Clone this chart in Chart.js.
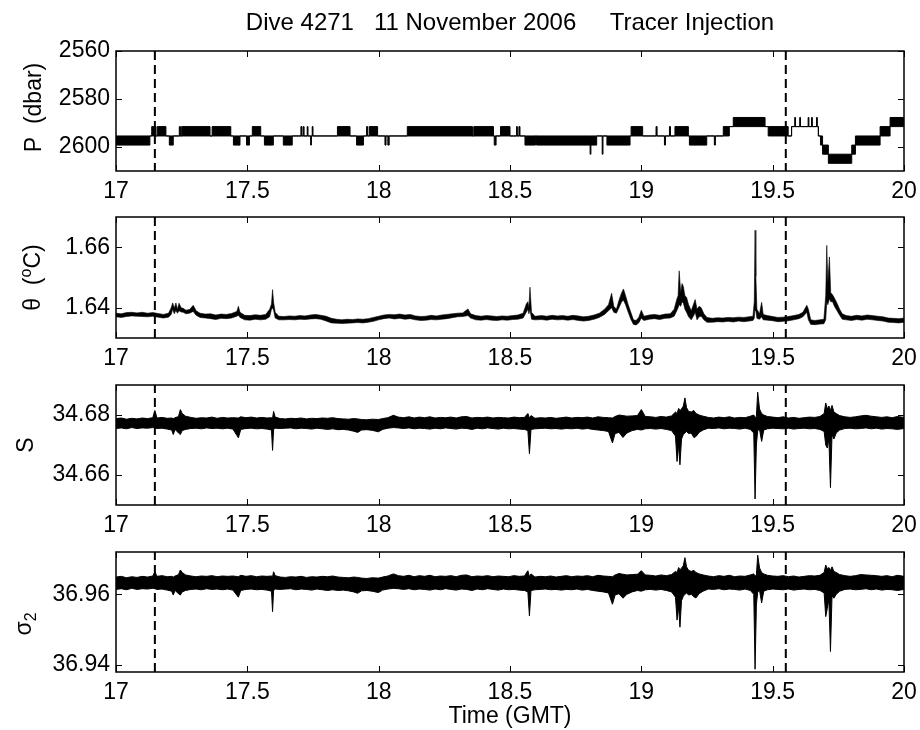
<!DOCTYPE html>
<html>
<head>
<meta charset="utf-8">
<style>
  body { margin: 0; background: #fff; overflow: hidden; }
  canvas { position: absolute; left: 0; }
</style>
</head>
<body>
<canvas id="pChart" width="960" height="211" style="top:0px"></canvas>
<canvas id="thetaChart" width="960" height="183" style="top:195px"></canvas>
<canvas id="sChart" width="960" height="182" style="top:363px"></canvas>
<canvas id="sigmaChart" width="960" height="200" style="top:530px"></canvas>

<script src="https://cdn.jsdelivr.net/npm/chart.js"></script>
<script>
// ---- data (time in hours GMT) ----
const timeTicks = [17, 17.5, 18, 18.5, 19, 19.5, 20];
const eventTimes = [17.148, 19.55]; // dashed markers

// pressure: step trace, shallow/deep value held from each break time
const pressureTicks = [2560, 2580, 2600];
const pressureTime = [
  17.000, 17.129, 17.136, 17.152, 17.157, 17.190, 17.203, 17.218, 17.241, 17.243,
  17.246, 17.248, 17.251, 17.358, 17.366, 17.437, 17.447, 17.472, 17.497, 17.508,
  17.519, 17.551, 17.565, 17.599, 17.637, 17.671, 17.704, 17.708, 17.713, 17.716,
  17.728, 17.731, 17.741, 17.744, 17.747, 17.750, 17.843, 17.891, 17.916, 17.942,
  17.954, 17.958, 17.964, 17.996, 18.024, 18.028, 18.035, 18.040, 18.109, 18.357,
  18.362, 18.437, 18.440, 18.447, 18.464, 18.500, 18.525, 18.528, 18.534, 18.538,
  18.557, 18.597, 18.601, 18.805, 18.808, 18.830, 18.851, 18.854, 18.869, 18.957,
  18.961, 19.005, 19.056, 19.060, 19.088, 19.092, 19.107, 19.111, 19.128, 19.179,
  19.183, 19.249, 19.278, 19.282, 19.312, 19.335, 19.350, 19.471, 19.483, 19.559,
  19.572, 19.584, 19.587, 19.603, 19.606, 19.635, 19.638, 19.648, 19.651, 19.667,
  19.670, 19.674, 19.682, 19.690, 19.712, 19.801, 19.815, 19.909, 19.947, 20.000
];
const pressureShallow = [
  2595.4, 2595.4, 2591.5, 2595.4, 2591.5, 2595.4, 2595.4, 2595.4, 2591.5, 2595.4,
  2591.5, 2595.4, 2591.5, 2595.4, 2591.5, 2595.4, 2595.4, 2595.4, 2595.4, 2595.4,
  2591.5, 2595.4, 2595.4, 2595.4, 2595.4, 2595.4, 2591.5, 2595.4, 2591.5, 2595.4,
  2591.5, 2595.4, 2595.4, 2595.4, 2591.5, 2595.4, 2591.5, 2595.4, 2595.4, 2595.4,
  2591.5, 2595.4, 2591.5, 2595.4, 2595.4, 2595.4, 2595.4, 2595.4, 2591.5, 2595.4,
  2591.5, 2595.4, 2595.4, 2595.4, 2591.5, 2595.4, 2591.5, 2595.4, 2591.5, 2595.4,
  2595.4, 2595.4, 2595.4, 2595.4, 2595.4, 2595.4, 2595.4, 2595.4, 2595.4, 2595.4,
  2591.5, 2595.4, 2591.5, 2595.4, 2595.4, 2595.4, 2591.5, 2595.4, 2591.5, 2595.4,
  2595.4, 2595.4, 2595.4, 2595.4, 2591.5, 2591.5, 2587.7, 2591.5, 2591.5, 2595.4,
  2591.5, 2587.7, 2591.5, 2587.7, 2591.5, 2587.7, 2591.5, 2587.7, 2591.5, 2587.7,
  2591.5, 2595.4, 2595.4, 2599.2, 2603.0, 2599.2, 2595.4, 2591.5, 2587.7, 2587.7
];
const pressureDeep = [
  2599.2, 2595.4, 2595.4, 2595.4, 2595.4, 2595.4, 2599.2, 2595.4, 2595.4, 2595.4,
  2595.4, 2595.4, 2595.4, 2595.4, 2595.4, 2595.4, 2599.2, 2595.4, 2599.2, 2595.4,
  2595.4, 2595.4, 2599.2, 2595.4, 2599.2, 2595.4, 2595.4, 2595.4, 2595.4, 2595.4,
  2595.4, 2595.4, 2599.2, 2595.4, 2595.4, 2595.4, 2595.4, 2595.4, 2599.2, 2595.4,
  2595.4, 2595.4, 2595.4, 2595.4, 2599.2, 2595.4, 2599.2, 2595.4, 2595.4, 2595.4,
  2595.4, 2595.4, 2599.2, 2595.4, 2595.4, 2595.4, 2595.4, 2595.4, 2595.4, 2595.4,
  2599.2, 2595.4, 2599.2, 2603.0, 2599.2, 2595.4, 2603.0, 2595.4, 2599.2, 2595.4,
  2595.4, 2595.4, 2595.4, 2595.4, 2599.2, 2595.4, 2595.4, 2595.4, 2595.4, 2595.4,
  2599.2, 2595.4, 2599.2, 2595.4, 2595.4, 2591.5, 2591.5, 2591.5, 2595.4, 2595.4,
  2591.5, 2591.5, 2591.5, 2591.5, 2591.5, 2591.5, 2591.5, 2591.5, 2591.5, 2591.5,
  2591.5, 2595.4, 2599.2, 2603.0, 2606.8, 2603.0, 2599.2, 2595.4, 2591.5, 2591.5
];

// potential temperature: upper / lower edge of the noisy trace
const thetaTicks = [1.66, 1.64];
const thetaTime = [
  17.000, 17.020, 17.040, 17.060, 17.080, 17.100, 17.120, 17.140, 17.160, 17.180,
  17.200, 17.210, 17.216, 17.222, 17.228, 17.234, 17.240, 17.248, 17.256, 17.266,
  17.280, 17.294, 17.305, 17.320, 17.340, 17.360, 17.380, 17.400, 17.420, 17.440,
  17.460, 17.466, 17.472, 17.490, 17.510, 17.530, 17.550, 17.570, 17.585, 17.592,
  17.596, 17.600, 17.606, 17.620, 17.640, 17.660, 17.680, 17.700, 17.720, 17.740,
  17.760, 17.780, 17.800, 17.820, 17.840, 17.860, 17.880, 17.900, 17.920, 17.940,
  17.960, 17.980, 18.000, 18.020, 18.040, 18.060, 18.080, 18.100, 18.120, 18.140,
  18.160, 18.180, 18.200, 18.220, 18.240, 18.260, 18.280, 18.300, 18.320, 18.340,
  18.350, 18.370, 18.390, 18.410, 18.430, 18.450, 18.470, 18.490, 18.510, 18.530,
  18.550, 18.562, 18.568, 18.572, 18.576, 18.582, 18.595, 18.620, 18.640, 18.660,
  18.680, 18.700, 18.720, 18.740, 18.760, 18.780, 18.800, 18.820, 18.840, 18.860,
  18.875, 18.887, 18.895, 18.905, 18.915, 18.925, 18.932, 18.940, 18.950, 18.960,
  18.970, 18.980, 18.990, 19.000, 19.010, 19.030, 19.050, 19.070, 19.090, 19.110,
  19.125, 19.135, 19.140, 19.144, 19.150, 19.155, 19.160, 19.166, 19.172, 19.180,
  19.190, 19.200, 19.205, 19.212, 19.220, 19.228, 19.238, 19.250, 19.270, 19.290,
  19.310, 19.330, 19.350, 19.370, 19.390, 19.410, 19.425, 19.430, 19.433, 19.436,
  19.440, 19.450, 19.458, 19.464, 19.480, 19.500, 19.520, 19.540, 19.560, 19.580,
  19.600, 19.615, 19.630, 19.636, 19.645, 19.660, 19.680, 19.695, 19.702, 19.706,
  19.710, 19.716, 19.721, 19.728, 19.735, 19.745, 19.755, 19.765, 19.780, 19.800,
  19.820, 19.840, 19.860, 19.880, 19.900, 19.920, 19.940, 19.960, 19.980, 20.000
];
const thetaMax = [
  1.6382, 1.6380, 1.6384, 1.6385, 1.6383, 1.6385, 1.6382, 1.6384, 1.6381, 1.6378,
  1.6382, 1.6400, 1.6416, 1.6398, 1.6416, 1.6395, 1.6415, 1.6400, 1.6398, 1.6392,
  1.6394, 1.6408, 1.6390, 1.6382, 1.6379, 1.6380, 1.6376, 1.6379, 1.6378, 1.6381,
  1.6388, 1.6405, 1.6385, 1.6375, 1.6374, 1.6377, 1.6375, 1.6378, 1.6395, 1.6412,
  1.6460, 1.6418, 1.6385, 1.6372, 1.6371, 1.6373, 1.6372, 1.6374, 1.6373, 1.6376,
  1.6378, 1.6375, 1.6372, 1.6365, 1.6362, 1.6360, 1.6362, 1.6361, 1.6363, 1.6362,
  1.6364, 1.6368, 1.6372, 1.6376, 1.6378, 1.6377, 1.6379, 1.6376, 1.6378, 1.6373,
  1.6371, 1.6372, 1.6375, 1.6373, 1.6376, 1.6378, 1.6380, 1.6382, 1.6383, 1.6396,
  1.6380, 1.6374, 1.6372, 1.6374, 1.6373, 1.6371, 1.6373, 1.6372, 1.6374, 1.6376,
  1.6382, 1.6412, 1.6420, 1.6400, 1.6468, 1.6385, 1.6372, 1.6374, 1.6372, 1.6375,
  1.6373, 1.6374, 1.6372, 1.6375, 1.6373, 1.6370, 1.6372, 1.6376, 1.6382, 1.6395,
  1.6410, 1.6448, 1.6405, 1.6395, 1.6425, 1.6450, 1.6462, 1.6440, 1.6410, 1.6385,
  1.6360, 1.6358, 1.6368, 1.6392, 1.6372, 1.6376, 1.6378, 1.6375, 1.6379, 1.6380,
  1.6395, 1.6428, 1.6440, 1.6522, 1.6450, 1.6480, 1.6470, 1.6440, 1.6435, 1.6410,
  1.6390, 1.6415, 1.6427, 1.6395, 1.6405, 1.6400, 1.6380, 1.6368, 1.6365, 1.6367,
  1.6366, 1.6368, 1.6367, 1.6369, 1.6368, 1.6370, 1.6372, 1.6420, 1.6656, 1.6504,
  1.6395, 1.6380, 1.6418, 1.6378, 1.6374, 1.6371, 1.6368, 1.6369, 1.6371, 1.6374,
  1.6378, 1.6385, 1.6408, 1.6395, 1.6360, 1.6358, 1.6360, 1.6362, 1.6440, 1.6606,
  1.6480, 1.6568, 1.6450, 1.6443, 1.6432, 1.6415, 1.6395, 1.6380, 1.6374, 1.6372,
  1.6375, 1.6373, 1.6376, 1.6374, 1.6372, 1.6370, 1.6366, 1.6365, 1.6364, 1.6366
];
const thetaMin = [
  1.6370, 1.6368, 1.6371, 1.6373, 1.6372, 1.6371, 1.6370, 1.6372, 1.6369, 1.6366,
  1.6369, 1.6378, 1.6395, 1.6380, 1.6392, 1.6382, 1.6390, 1.6386, 1.6385, 1.6380,
  1.6382, 1.6388, 1.6375, 1.6368, 1.6366, 1.6364, 1.6361, 1.6365, 1.6364, 1.6366,
  1.6372, 1.6375, 1.6368, 1.6360, 1.6359, 1.6362, 1.6360, 1.6362, 1.6370, 1.6395,
  1.6400, 1.6392, 1.6366, 1.6360, 1.6360, 1.6361, 1.6360, 1.6362, 1.6361, 1.6363,
  1.6364, 1.6362, 1.6356, 1.6350, 1.6349, 1.6348, 1.6349, 1.6350, 1.6351, 1.6350,
  1.6352, 1.6355, 1.6360, 1.6364, 1.6366, 1.6363, 1.6365, 1.6362, 1.6364, 1.6360,
  1.6358, 1.6359, 1.6361, 1.6360, 1.6362, 1.6364, 1.6367, 1.6370, 1.6371, 1.6374,
  1.6366, 1.6360, 1.6359, 1.6361, 1.6359, 1.6358, 1.6360, 1.6359, 1.6361, 1.6362,
  1.6366, 1.6385, 1.6395, 1.6380, 1.6395, 1.6362, 1.6360, 1.6361, 1.6359, 1.6362,
  1.6360, 1.6361, 1.6359, 1.6361, 1.6358, 1.6356, 1.6358, 1.6362, 1.6368, 1.6378,
  1.6390, 1.6400, 1.6385, 1.6382, 1.6400, 1.6420, 1.6425, 1.6410, 1.6385, 1.6362,
  1.6345, 1.6343, 1.6350, 1.6365, 1.6358, 1.6362, 1.6364, 1.6361, 1.6365, 1.6366,
  1.6372, 1.6390, 1.6400, 1.6410, 1.6405, 1.6420, 1.6415, 1.6395, 1.6385, 1.6370,
  1.6360, 1.6375, 1.6385, 1.6360, 1.6370, 1.6372, 1.6360, 1.6352, 1.6352, 1.6354,
  1.6353, 1.6355, 1.6353, 1.6356, 1.6354, 1.6356, 1.6358, 1.6365, 1.6400, 1.6390,
  1.6365, 1.6362, 1.6370, 1.6360, 1.6359, 1.6357, 1.6354, 1.6355, 1.6357, 1.6360,
  1.6364, 1.6370, 1.6385, 1.6360, 1.6345, 1.6344, 1.6346, 1.6347, 1.6360, 1.6420,
  1.6410, 1.6430, 1.6420, 1.6420, 1.6405, 1.6390, 1.6375, 1.6362, 1.6360, 1.6358,
  1.6361, 1.6359, 1.6362, 1.6360, 1.6358, 1.6356, 1.6352, 1.6351, 1.6350, 1.6352
];

// salinity and sigma-2 share the CTD time base
const salinityTicks = [34.68, 34.66];
const sigmaTicks = [36.96, 36.94];
const ctdTime = [
  17.000, 17.020, 17.040, 17.060, 17.080, 17.100, 17.120, 17.140, 17.148, 17.156,
  17.175, 17.195, 17.212, 17.218, 17.225, 17.238, 17.245, 17.252, 17.265, 17.285,
  17.305, 17.325, 17.345, 17.365, 17.385, 17.405, 17.425, 17.445, 17.466, 17.475,
  17.495, 17.515, 17.535, 17.555, 17.575, 17.592, 17.596, 17.600, 17.606, 17.625,
  17.645, 17.665, 17.685, 17.705, 17.725, 17.745, 17.765, 17.785, 17.805, 17.825,
  17.845, 17.865, 17.885, 17.905, 17.920, 17.935, 17.955, 17.975, 17.999, 18.015,
  18.035, 18.056, 18.075, 18.095, 18.115, 18.135, 18.155, 18.175, 18.195, 18.215,
  18.235, 18.255, 18.275, 18.295, 18.315, 18.335, 18.355, 18.375, 18.395, 18.415,
  18.435, 18.455, 18.475, 18.495, 18.515, 18.535, 18.555, 18.568, 18.574, 18.580,
  18.595, 18.615, 18.635, 18.655, 18.675, 18.695, 18.715, 18.735, 18.755, 18.775,
  18.795, 18.815, 18.835, 18.855, 18.875, 18.890, 18.900, 18.915, 18.930, 18.945,
  18.965, 18.985, 19.000, 19.015, 19.035, 19.055, 19.075, 19.095, 19.115, 19.130,
  19.136, 19.142, 19.147, 19.153, 19.160, 19.166, 19.172, 19.180, 19.190, 19.200,
  19.208, 19.220, 19.235, 19.255, 19.275, 19.295, 19.315, 19.335, 19.355, 19.375,
  19.395, 19.415, 19.428, 19.433, 19.438, 19.443, 19.450, 19.458, 19.466, 19.480,
  19.500, 19.520, 19.540, 19.560, 19.580, 19.600, 19.620, 19.640, 19.660, 19.680,
  19.696, 19.702, 19.708, 19.714, 19.720, 19.726, 19.733, 19.742, 19.755, 19.775,
  19.795, 19.815, 19.835, 19.855, 19.875, 19.895, 19.915, 19.935, 19.955, 19.975,
  20.000
];
const salinityMax = [
  34.6788, 34.6790, 34.6786, 34.6789, 34.6787, 34.6790, 34.6788, 34.6791, 34.6815, 34.6790,
  34.6792, 34.6789, 34.6790, 34.6788, 34.6791, 34.6795, 34.6818, 34.6805, 34.6796, 34.6792,
  34.6789, 34.6791, 34.6790, 34.6793, 34.6789, 34.6792, 34.6790, 34.6791, 34.6790, 34.6794,
  34.6791, 34.6793, 34.6790, 34.6792, 34.6790, 34.6791, 34.6789, 34.6812, 34.6793, 34.6788,
  34.6787, 34.6789, 34.6788, 34.6790, 34.6787, 34.6789, 34.6788, 34.6790, 34.6789, 34.6791,
  34.6788, 34.6787, 34.6786, 34.6788, 34.6787, 34.6785, 34.6784, 34.6786, 34.6785, 34.6788,
  34.6791, 34.6799, 34.6793, 34.6791, 34.6794, 34.6790, 34.6793, 34.6791, 34.6794, 34.6790,
  34.6792, 34.6791, 34.6793, 34.6790, 34.6794, 34.6795, 34.6790, 34.6792, 34.6791, 34.6793,
  34.6790, 34.6792, 34.6791, 34.6790, 34.6793, 34.6791, 34.6792, 34.6805, 34.6790, 34.6798,
  34.6789, 34.6791, 34.6790, 34.6792, 34.6789, 34.6791, 34.6793, 34.6790, 34.6792, 34.6791,
  34.6793, 34.6790, 34.6794, 34.6792, 34.6791, 34.6790, 34.6795, 34.6800, 34.6798, 34.6796,
  34.6797, 34.6798, 34.6818, 34.6795, 34.6794, 34.6792, 34.6795, 34.6793, 34.6797, 34.6810,
  34.6805, 34.6822, 34.6815, 34.6820, 34.6830, 34.6857, 34.6825, 34.6812, 34.6810, 34.6815,
  34.6805, 34.6800, 34.6796, 34.6792, 34.6790, 34.6793, 34.6791, 34.6794, 34.6790, 34.6792,
  34.6791, 34.6796, 34.6800, 34.6792, 34.6795, 34.6876, 34.6820, 34.6805, 34.6800, 34.6795,
  34.6793, 34.6791, 34.6794, 34.6790, 34.6792, 34.6789, 34.6791, 34.6793, 34.6792, 34.6795,
  34.6805, 34.6840, 34.6820, 34.6830, 34.6815, 34.6832, 34.6810, 34.6805, 34.6798, 34.6794,
  34.6792, 34.6794, 34.6797, 34.6799, 34.6796, 34.6794, 34.6792, 34.6794, 34.6791, 34.6795,
  34.6792
];
const salinityMin = [
  34.6755, 34.6757, 34.6754, 34.6758, 34.6755, 34.6757, 34.6756, 34.6758, 34.6757, 34.6755,
  34.6756, 34.6753, 34.6750, 34.6735, 34.6752, 34.6740, 34.6735, 34.6748, 34.6752, 34.6755,
  34.6756, 34.6754, 34.6757, 34.6755, 34.6756, 34.6754, 34.6756, 34.6753, 34.6724, 34.6752,
  34.6755, 34.6756, 34.6754, 34.6755, 34.6753, 34.6750, 34.6682, 34.6752, 34.6756, 34.6755,
  34.6756, 34.6757, 34.6754, 34.6756, 34.6755, 34.6753, 34.6756, 34.6754, 34.6752, 34.6754,
  34.6751, 34.6752, 34.6750, 34.6746, 34.6742, 34.6750, 34.6751, 34.6749, 34.6744, 34.6752,
  34.6756, 34.6758, 34.6757, 34.6755, 34.6757, 34.6754, 34.6756, 34.6755, 34.6753, 34.6756,
  34.6754, 34.6757, 34.6755, 34.6753, 34.6756, 34.6755, 34.6752, 34.6756, 34.6754, 34.6757,
  34.6755, 34.6753, 34.6756, 34.6754, 34.6755, 34.6753, 34.6752, 34.6748, 34.6671, 34.6752,
  34.6754, 34.6755, 34.6756, 34.6754, 34.6755, 34.6753, 34.6755, 34.6754, 34.6756, 34.6753,
  34.6755, 34.6752, 34.6750, 34.6748, 34.6745, 34.6707, 34.6738, 34.6742, 34.6725, 34.6740,
  34.6748, 34.6752, 34.6750, 34.6754, 34.6755, 34.6753, 34.6755, 34.6752, 34.6748, 34.6730,
  34.6645, 34.6700, 34.6634, 34.6720, 34.6735, 34.6740, 34.6745, 34.6738, 34.6740, 34.6725,
  34.6728, 34.6742, 34.6750, 34.6756, 34.6755, 34.6757, 34.6754, 34.6756, 34.6755, 34.6753,
  34.6756, 34.6752, 34.6740, 34.6520, 34.6700, 34.6748, 34.6752, 34.6712, 34.6750, 34.6754,
  34.6756, 34.6755, 34.6754, 34.6756, 34.6753, 34.6755, 34.6756, 34.6754, 34.6755, 34.6752,
  34.6745, 34.6700, 34.6690, 34.6720, 34.6558, 34.6735, 34.6720, 34.6740, 34.6750, 34.6755,
  34.6756, 34.6754, 34.6755, 34.6757, 34.6754, 34.6756, 34.6753, 34.6755, 34.6754, 34.6752,
  34.6755
];
const sigmaMax = [
  36.9649, 36.9651, 36.9647, 36.9650, 36.9648, 36.9651, 36.9649, 36.9652, 36.9664, 36.9651,
  36.9653, 36.9650, 36.9651, 36.9649, 36.9652, 36.9656, 36.9669, 36.9662, 36.9655, 36.9652,
  36.9650, 36.9652, 36.9651, 36.9653, 36.9650, 36.9652, 36.9651, 36.9652, 36.9650, 36.9654,
  36.9651, 36.9653, 36.9650, 36.9652, 36.9651, 36.9652, 36.9650, 36.9664, 36.9653, 36.9649,
  36.9648, 36.9650, 36.9649, 36.9651, 36.9648, 36.9650, 36.9649, 36.9651, 36.9650, 36.9652,
  36.9649, 36.9648, 36.9647, 36.9649, 36.9648, 36.9646, 36.9645, 36.9647, 36.9646, 36.9649,
  36.9652, 36.9658, 36.9653, 36.9651, 36.9654, 36.9650, 36.9653, 36.9651, 36.9654, 36.9650,
  36.9652, 36.9651, 36.9653, 36.9650, 36.9654, 36.9655, 36.9650, 36.9652, 36.9651, 36.9653,
  36.9650, 36.9652, 36.9651, 36.9650, 36.9653, 36.9651, 36.9652, 36.9667, 36.9650, 36.9658,
  36.9649, 36.9651, 36.9650, 36.9652, 36.9649, 36.9651, 36.9653, 36.9650, 36.9652, 36.9651,
  36.9653, 36.9650, 36.9654, 36.9652, 36.9651, 36.9650, 36.9655, 36.9659, 36.9657, 36.9655,
  36.9656, 36.9657, 36.9667, 36.9655, 36.9654, 36.9652, 36.9655, 36.9653, 36.9656, 36.9665,
  36.9662, 36.9676, 36.9670, 36.9674, 36.9682, 36.9704, 36.9678, 36.9668, 36.9665, 36.9668,
  36.9662, 36.9658, 36.9655, 36.9652, 36.9650, 36.9653, 36.9651, 36.9654, 36.9650, 36.9652,
  36.9651, 36.9655, 36.9658, 36.9652, 36.9654, 36.9711, 36.9675, 36.9662, 36.9658, 36.9654,
  36.9652, 36.9651, 36.9653, 36.9650, 36.9652, 36.9649, 36.9651, 36.9653, 36.9652, 36.9654,
  36.9662, 36.9683, 36.9672, 36.9676, 36.9668, 36.9678, 36.9665, 36.9662, 36.9656, 36.9653,
  36.9651, 36.9653, 36.9656, 36.9655, 36.9654, 36.9653, 36.9651, 36.9653, 36.9650, 36.9654,
  36.9651
];
const sigmaMin = [
  36.9614, 36.9616, 36.9613, 36.9617, 36.9614, 36.9616, 36.9615, 36.9617, 36.9616, 36.9614,
  36.9615, 36.9612, 36.9609, 36.9598, 36.9611, 36.9602, 36.9598, 36.9607, 36.9611, 36.9614,
  36.9615, 36.9613, 36.9616, 36.9614, 36.9615, 36.9613, 36.9615, 36.9612, 36.9592, 36.9611,
  36.9614, 36.9615, 36.9613, 36.9614, 36.9612, 36.9609, 36.9551, 36.9611, 36.9615, 36.9614,
  36.9615, 36.9616, 36.9613, 36.9615, 36.9614, 36.9612, 36.9615, 36.9613, 36.9611, 36.9613,
  36.9611, 36.9612, 36.9610, 36.9607, 36.9603, 36.9610, 36.9611, 36.9609, 36.9605, 36.9612,
  36.9615, 36.9617, 36.9616, 36.9614, 36.9616, 36.9613, 36.9615, 36.9614, 36.9612, 36.9615,
  36.9613, 36.9616, 36.9614, 36.9612, 36.9615, 36.9614, 36.9611, 36.9615, 36.9613, 36.9616,
  36.9614, 36.9612, 36.9615, 36.9613, 36.9614, 36.9612, 36.9611, 36.9607, 36.9539, 36.9611,
  36.9613, 36.9614, 36.9615, 36.9613, 36.9614, 36.9612, 36.9614, 36.9613, 36.9615, 36.9612,
  36.9614, 36.9611, 36.9609, 36.9607, 36.9604, 36.9572, 36.9598, 36.9602, 36.9589, 36.9600,
  36.9607, 36.9611, 36.9609, 36.9613, 36.9614, 36.9612, 36.9614, 36.9611, 36.9607, 36.9592,
  36.9527, 36.9565, 36.9507, 36.9582, 36.9595, 36.9600, 36.9604, 36.9598, 36.9600, 36.9593,
  36.9590, 36.9602, 36.9609, 36.9615, 36.9614, 36.9616, 36.9613, 36.9615, 36.9614, 36.9612,
  36.9615, 36.9611, 36.9600, 36.9388, 36.9570, 36.9607, 36.9611, 36.9576, 36.9609, 36.9613,
  36.9615, 36.9614, 36.9613, 36.9615, 36.9612, 36.9614, 36.9615, 36.9613, 36.9614, 36.9611,
  36.9604, 36.9537, 36.9560, 36.9585, 36.9438, 36.9596, 36.9589, 36.9600, 36.9609, 36.9614,
  36.9615, 36.9613, 36.9614, 36.9616, 36.9613, 36.9615, 36.9612, 36.9614, 36.9613, 36.9611,
  36.9614
];

// ---- drawing ----
const FONT = "'Liberation Sans', Arial, Helvetica, sans-serif";
Chart.defaults.font.family = FONT;
Chart.defaults.font.size = 23;
Chart.defaults.font.lineHeight = 1.2;
Chart.defaults.color = '#000';

// box round the axes plus inward ticks on all four sides (matlab look)
const framePlugin = {
  id: 'frame',
  afterDatasetsDraw(chart) {
    const { ctx, chartArea: a, scales: { x, y } } = chart;
    ctx.save();
    ctx.strokeStyle = '#000';
    ctx.lineWidth = 1;
    ctx.beginPath();
    x.ticks.forEach(t => {
      const px = Math.round(x.getPixelForValue(t.value)) + 0.5;
      ctx.moveTo(px, a.bottom); ctx.lineTo(px, a.bottom - 6);
      ctx.moveTo(px, a.top); ctx.lineTo(px, a.top + 6);
    });
    y.ticks.forEach(t => {
      const py = Math.round(y.getPixelForValue(t.value)) + 0.5;
      ctx.moveTo(a.left, py); ctx.lineTo(a.left + 6, py);
      ctx.moveTo(a.right, py); ctx.lineTo(a.right - 6, py);
    });
    ctx.stroke();
    ctx.lineWidth = 1.5;
    ctx.strokeRect(a.left, a.top, a.right - a.left, a.bottom - a.top);
    ctx.restore();
  }
};

// rotated y label with super/subscripts
const yLabelPlugin = {
  id: 'yLabel',
  afterDraw(chart, args, opts) {
    const { ctx, chartArea: a } = chart;
    const parts = opts.parts || [];
    ctx.save();
    ctx.translate(opts.x, (a.top + a.bottom) / 2 + (opts.shift || 0));
    ctx.rotate(-Math.PI / 2);
    ctx.fillStyle = '#000';
    ctx.textBaseline = 'middle';
    ctx.textAlign = 'left';
    const widths = parts.map(p => { ctx.font = p.size + 'px ' + FONT; return ctx.measureText(p.text).width; });
    let cx = -widths.reduce((s, w) => s + w, 0) / 2;
    parts.forEach((p, i) => {
      ctx.font = p.size + 'px ' + FONT;
      ctx.fillText(p.text, cx, p.dy || 0);
      cx += widths[i];
    });
    ctx.restore();
  }
};

function envelope(times, hi, lo, stepped, width) {
  return [
    { data: times.map((t, i) => ({ x: t, y: hi[i] })), borderColor: '#000', backgroundColor: '#000',
      borderWidth: width, pointRadius: 0, fill: '+1', stepped: stepped },
    { data: times.map((t, i) => ({ x: t, y: lo[i] })), borderColor: '#000',
      borderWidth: width, pointRadius: 0, fill: false, stepped: stepped }
  ];
}

function eventLines(yMin, yMax) {
  return eventTimes.map(t => ({
    data: [{ x: t, y: yMin }, { x: t, y: yMax }],
    borderColor: '#000', borderWidth: 2, borderDash: [9, 5], pointRadius: 0, fill: false
  }));
}

function panel(id, c) {
  return new Chart(document.getElementById(id), {
    type: 'line',
    data: { datasets: [...eventLines(c.min, c.max), ...c.series] },
    options: {
      responsive: false,
      animation: false,
      devicePixelRatio: 1,
      events: [],
      layout: { padding: { top: c.padTop, right: 56, left: 0, bottom: 0 } },
      plugins: {
        legend: { display: false },
        tooltip: { enabled: false },
        title: c.title || { display: false },
        yLabel: c.yLabel
      },
      scales: {
        x: {
          type: 'linear', min: 17, max: 20,
          grid: { display: false, drawTicks: false },
          border: { display: false },
          ticks: { padding: 7, maxRotation: 0, autoSkip: false, callback: v => String(v) },
          afterBuildTicks: s => { s.ticks = timeTicks.map(v => ({ value: v })); },
          afterFit: s => { s.height = c.xHeight; },
          title: c.xTitle || { display: false }
        },
        y: {
          type: 'linear', min: c.min, max: c.max, reverse: !!c.reverse,
          grid: { display: false, drawTicks: false },
          border: { display: false },
          ticks: { padding: 6, autoSkip: false, callback: v => String(v) },
          afterBuildTicks: s => { s.ticks = c.ticks.map(v => ({ value: v })); },
          afterFit: s => { s.width = 116; }
        }
      }
    },
    plugins: [framePlugin, yLabelPlugin]
  });
}

panel('pChart', {
  min: 2560, max: 2610, reverse: true, ticks: pressureTicks, padTop: 0, xHeight: 40,
  series: envelope(pressureTime, pressureShallow, pressureDeep, true, 1),
  title: {
    display: true, text: 'Dive 4271   11 November 2006     Tracer Injection', fullSize: false,
    color: '#000', font: { size: 24, weight: 'normal', lineHeight: 1.2 }, padding: { top: 9, bottom: 13.2 }
  },
  yLabel: { x: 35, shift: -3.5, parts: [{ text: 'P  (dbar)', size: 23 }] }
});

panel('thetaChart', {
  min: 1.63, max: 1.67, ticks: thetaTicks, padTop: 22, xHeight: 40,
  series: envelope(thetaTime, thetaMax, thetaMin, false, 0.6),
  yLabel: { x: 34, shift: 0, parts: [
    { text: '\u03b8  (', size: 23 }, { text: 'o', size: 16, dy: -7 }, { text: 'C)', size: 23 }
  ] }
});

panel('sChart', {
  min: 34.65, max: 34.69, ticks: salinityTicks, padTop: 22, xHeight: 40,
  series: envelope(ctdTime, salinityMax, salinityMin, false, 1),
  yLabel: { x: 27, shift: 0, parts: [{ text: 'S', size: 23 }] }
});

panel('sigmaChart', {
  min: 36.938, max: 36.972, ticks: sigmaTicks, padTop: 22, xHeight: 58,
  series: envelope(ctdTime, sigmaMax, sigmaMin, false, 1),
  xTitle: { display: true, text: 'Time (GMT)', color: '#000', font: { size: 23 }, padding: { top: 0, bottom: 0 } },
  yLabel: { x: 25, shift: 12, parts: [{ text: '\u03c3', size: 23 }, { text: '2', size: 16, dy: 7 }] }
});
</script>
</body>
</html>
